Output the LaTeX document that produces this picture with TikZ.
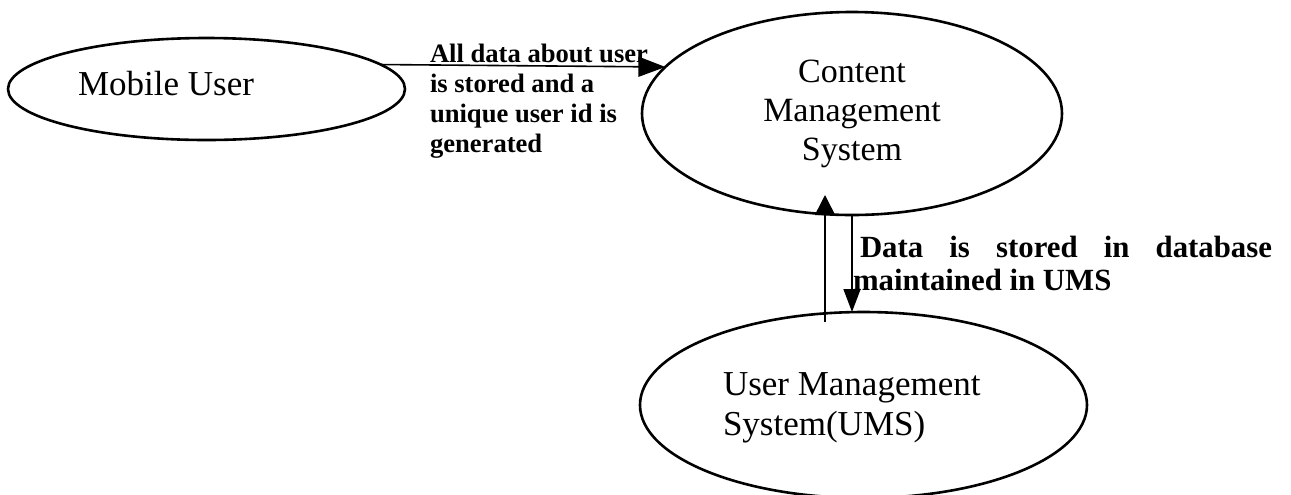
\documentclass[tikz,border=0pt]{standalone}
\usepackage{fontspec}
\setmainfont{Liberation Serif}
\usetikzlibrary{shapes.geometric,arrows.meta}
\tikzset{
  proc/.style={ellipse, draw, line width=1.3pt, inner sep=0pt, outer sep=0pt},
  flow/.style={line width=0.8pt},
  lbl/.style={inner sep=0pt, outer sep=0pt, anchor=base west},
  ctr/.style={inner sep=0pt, outer sep=0pt, anchor=base},
}
\begin{document}
\begin{tikzpicture}[x=0.5pt,y=-0.5pt]
\useasboundingbox (0,0) rectangle (1291,494);

% processes
\node[proc, minimum width=198.5pt, minimum height=51pt]   (mu)  at (206.5,89)  {};
\node[proc, minimum width=210pt,   minimum height=101.5pt] (cms) at (852,113.5) {};
\node[proc, minimum width=223.5pt, minimum height=93pt]   (ums) at (863.5,405) {};

% process names
\node[lbl] (tmu) at (78,95) {\fontsize{17.5pt}{20pt}\selectfont Mobile User};
\node[ctr] (tcms) at (852,82) {\parbox[t]{120pt}{\centering\fontsize{17pt}{19.5pt}\selectfont Content\\Management\\System}};
\node[lbl] (tums) at (723,395) {\parbox[t]{140pt}{\raggedright\fontsize{17.5pt}{20pt}\selectfont User Management\\System(UMS)}};

% data flows
\draw[flow, -{Triangle[length=13.5pt,width=10pt]}] (mu.8) -- (cms.166);

\path (cms.south) ++(-27,-20) coordinate (uptip);
\path (ums.north) ++(-38.5,10) coordinate (upfoot);
\draw[flow, -{Triangle[length=10pt,width=10pt]}] (upfoot) -- (uptip);
\draw[flow, -{Triangle[length=11.5pt,width=8.5pt]}] (cms.south) -- (cms.south |- ums.north);

% flow labels
\node[lbl] (lregister) at (430,62) {\parbox[t]{112pt}{\raggedright\bfseries\fontsize{13.3pt}{15pt}\selectfont All data about user\\is stored and a\\unique user id is\\generated}};
\node[lbl] (lstore) at (853,257) {\parbox[t]{210pt}{\bfseries\fontsize{15.4pt}{16.5pt}\selectfont\hspace*{3.5pt}\makebox[206pt][s]{Data is stored in database}\\maintained in UMS}};
\end{tikzpicture}
\end{document}
